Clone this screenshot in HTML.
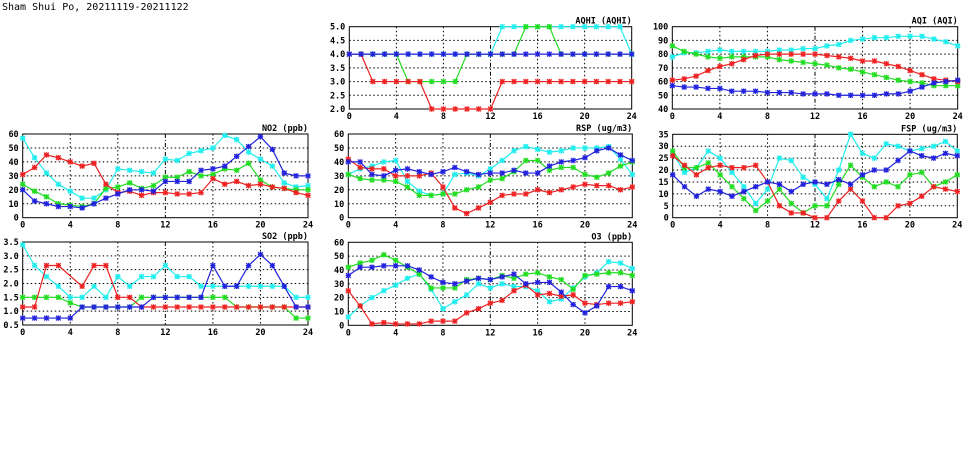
<!DOCTYPE html>
<html><head><meta charset="utf-8"><style>
body{margin:0;background:#fff;width:975px;height:447px;overflow:hidden}
svg text{font-family:"DejaVu Sans Mono","Liberation Mono",monospace;font-weight:bold;font-size:8.5px;fill:#000}
</style></head><body>
<svg id="s" width="975" height="447" xmlns="http://www.w3.org/2000/svg">
<text x="2" y="10" style="font-size:10px;font-weight:normal">Sham Shui Po, 20211119-20211122</text>
</svg>
<script>
const C={c:"#22eeee",g:"#22dd22",r:"#ee2222",b:"#2222dd"};
const P=[
{t:"AQHI (AQHI)",x0:349.3,x1:631.7,y0:26.7,y1:109,min:2,max:5,step:.5,dec:1,
 d:{c:[4,4,4,4,4,4,4,4,4,4,4,4,4,5,5,5,5,5,5,5,5,5,5,5,4],
    g:[4,4,4,4,4,3,3,3,3,3,4,4,4,4,4,5,5,5,4,4,4,4,4,4,4],
    r:[4,4,3,3,3,3,3,2,2,2,2,2,2,3,3,3,3,3,3,3,3,3,3,3,3],
    b:[4,4,4,4,4,4,4,4,4,4,4,4,4,4,4,4,4,4,4,4,4,4,4,4,4]}},
{t:"AQI (AQI)",x0:672.3,x1:957.7,y0:26.7,y1:109,min:40,max:100,step:10,dec:0,
 d:{c:[78,81,81,82,83,82,82,82,82,83,83,84,84,86,87,90,91,92,92,93,93,93,91,89,86],
    g:[86,82,80,78,77,78,78,78,78,76,75,74,73,72,70,69,67,65,63,61,60,59,57,57,57],
    r:[61,62,64,68,71,73,76,79,80,80,80,80,80,79,78,77,75,75,73,71,68,65,62,61,60],
    b:[57,56,56,55,55,53,53,53,52,52,52,51,51,51,50,50,50,50,51,51,53,56,59,60,61]}},
{t:"NO2 (ppb)",x0:22.7,x1:308,y0:134,y1:217.7,min:0,max:60,step:10,dec:0,
 d:{c:[57,43,32,24,19,14,14,20,35,34,33,32,42,41,46,48,50,59,56,47,42,37,25,22,23],
    g:[24,19,15,10,9,8,10,21,22,25,21,23,29,29,33,30,31,35,34,39,27,22,21,20,20],
    r:[31,36,45,43,40,37,39,24,18,19,16,18,18,17,17,18,28,24,26,23,24,22,21,18,16],
    b:[20,12,10,8,8,7,10,14,17,20,20,19,26,26,26,34,35,37,44,51,58,49,32,30,30]}},
{t:"RSP (ug/m3)",x0:348.3,x1:632.3,y0:134,y1:217.7,min:0,max:60,step:10,dec:0,
 d:{c:[31,35,37,40,41,26,19,16,17,31,32,30,35,41,48,51,49,47,48,50,50,50,51,42,31],
    g:[31,28,27,27,26,22,16,16,17,17,20,22,27,28,33,41,41,34,36,36,31,29,32,37,40],
    r:[42,36,35,35,30,30,30,32,22,7,3,7,11,16,17,17,20,18,20,22,24,23,23,20,22],
    b:[40,40,31,30,34,35,33,31,33,36,33,31,32,32,34,32,32,37,40,41,43,48,50,45,41]}},
{t:"FSP (ug/m3)",x0:672.7,x1:957.3,y0:134.3,y1:217.7,min:0,max:35,step:5,dec:0,
 d:{c:[27,19,21,28,25,19,13,6,12,25,24,17,14,8,20,35,27,25,31,30,28,29,30,32,28],
    g:[28,21,21,23,18,13,8,3,7,12,6,2,5,5,14,22,17,13,15,13,18,19,13,15,18],
    r:[26,22,18,21,22,21,21,22,15,5,2,2,0,0,7,12,7,0,0,5,6,9,13,12,11],
    b:[18,13,9,12,11,9,11,13,15,14,11,14,15,14,16,14,18,20,20,24,28,26,25,27,26]}},
{t:"SO2 (ppb)",x0:22.7,x1:308,y0:242,y1:325,min:.5,max:3.5,step:.5,dec:1,
 d:{c:[3.4,2.65,2.25,1.9,1.5,1.5,1.9,1.5,2.25,1.9,2.25,2.25,2.65,2.25,2.25,1.9,1.9,1.9,1.9,1.9,1.9,1.9,1.9,1.5,1.5],
    g:[1.5,1.5,1.5,1.5,1.3,1.15,1.15,1.15,1.15,1.15,1.5,1.5,1.5,1.5,1.5,1.5,1.5,1.5,1.15,1.15,1.15,1.15,1.15,.75,.75],
    r:[1.15,1.15,2.65,2.65,null,1.9,2.65,2.65,1.5,1.5,1.15,1.15,1.15,1.15,1.15,1.15,1.15,1.15,1.15,1.15,1.15,1.15,1.15,1.15,1.15],
    b:[.75,.75,.75,.75,.75,1.15,1.15,1.15,1.15,1.15,1.15,1.5,1.5,1.5,1.5,1.5,2.65,1.9,1.9,2.65,3.05,2.65,1.9,1.15,1.15]}},
{t:"O3 (ppb)",x0:348.3,x1:632.3,y0:242.3,y1:325.3,min:0,max:60,step:10,dec:0,
 d:{c:[6,14,20,25,29,34,37,26,12,17,22,30,27,30,28,28,25,17,19,27,35,38,46,45,41],
    g:[42,45,47,51,47,42,37,27,27,27,33,34,33,36,34,37,38,35,33,26,36,37,38,38,36],
    r:[25,14,1,2,1,1,1,3,3,3,9,12,16,18,25,29,22,23,21,22,16,15,16,16,17],
    b:[36,42,42,43,43,43,40,35,31,30,32,34,33,35,37,30,31,31,24,15,9,14,28,28,25]}}
];
const s=document.getElementById("s");let h="";
for(const p of P){
 const X=i=>p.x0+(p.x1-p.x0)*i/24, Y=v=>p.y1-(p.y1-p.y0)*(v-p.min)/(p.max-p.min);
 for(let v=p.min;v<=p.max+1e-9;v+=p.step){const y=Y(v);
  if(v>p.min+1e-9&&v<p.max-1e-9)h+=`<line x1="${p.x0}" x2="${p.x1}" y1="${y}" y2="${y}" stroke="#000" stroke-width="1" stroke-dasharray="1.5,2.5"/>`;
  h+=`<text x="${p.x0-4}" y="${y+3}" text-anchor="end">${v.toFixed(p.dec)}</text>`;}
 for(let i=0;i<=24;i+=4){const x=X(i);
  if(i>0&&i<24)h+=`<line x1="${x}" x2="${x}" y1="${p.y0}" y2="${p.y1}" stroke="#000" stroke-width="1" stroke-dasharray="${i==12?'4,2,1,2':'1.5,2.5'}"/>`;
  h+=`<text x="${x}" y="${p.y1+10}" text-anchor="middle">${i}</text>`;}
 h+=`<rect x="${p.x0}" y="${p.y0}" width="${p.x1-p.x0}" height="${p.y1-p.y0}" fill="none" stroke="#000" stroke-width="1"/>`;
 h+=`<text x="${p.x1}" y="${p.y0-3}" text-anchor="end">${p.t}</text>`;
 for(const k of ["c","g","r","b"]){const a=p.d[k];let pts=[];
  a.forEach((v,i)=>{if(v!==null)pts.push([X(i),Y(v)]);});
  h+=`<polyline fill="none" stroke="${C[k]}" stroke-width="1.2" points="${pts.map(q=>q.join(',')).join(' ')}"/>`;
  for(const [x,y] of pts){h+=`<path d="M${x-2.7},${y}h5.4M${x},${y-2.7}v5.4M${x-2.3},${y-2.3}l4.6,4.6M${x-2.3},${y+2.3}l4.6,-4.6" stroke="${C[k]}" stroke-width="1.3"/>`;}
 }
}
s.insertAdjacentHTML("beforeend",h);
</script>
</body></html>
